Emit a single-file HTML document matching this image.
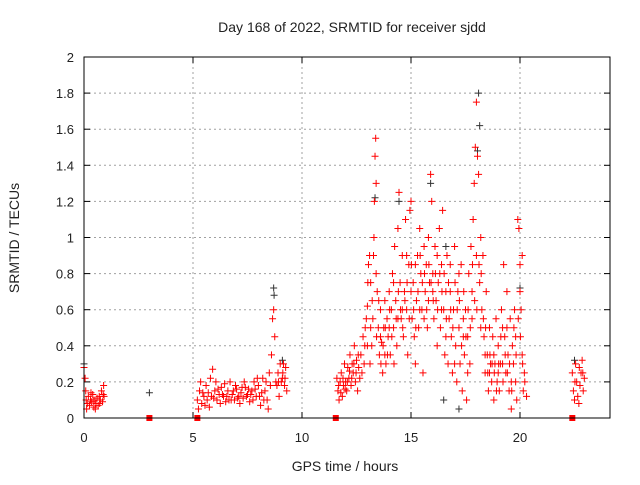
<!DOCTYPE html>
<html><head><meta charset="utf-8"><style>
body{margin:0;background:#fff;}
svg text{font-family:"Liberation Sans",sans-serif;font-size:13px;fill:#222;}
</style></head><body>
<svg id="chart" width="640" height="480" xmlns="http://www.w3.org/2000/svg">
<rect width="640" height="480" fill="#fff"/>
<text x="352" y="32" text-anchor="middle" style="font-size:14px">Day 168 of 2022, SRMTID for receiver sjdd</text>
<text transform="translate(19,238) rotate(-90)" text-anchor="middle" style="font-size:14px">SRMTID / TECUs</text>
<text x="345" y="471" text-anchor="middle" style="font-size:14px">GPS time / hours</text>
<g id="grid"></g><g id="ticks"></g><g id="marks"></g>
<rect x="84" y="57" width="526" height="361" fill="none" stroke="#000" stroke-width="1"/>
</svg>
<script>
const xTicks=[0,5,10,15,20];
const yTicks=[0,0.2,0.4,0.6,0.8,1,1.2,1.4,1.6,1.8,2];
const yTickLabels=["0","0.2","0.4","0.6","0.8","1","1.2","1.4","1.6","1.8","2"];
const redData=[[0.0,0.28],[0.05,0.22],[0.08,0.15],[0.1,0.1],[0.15,0.08],[0.2,0.12],[0.25,0.07],[0.3,0.1],[0.35,0.09],[0.4,0.13],[0.45,0.06],[0.5,0.1],[0.55,0.08],[0.6,0.11],[0.65,0.07],[0.7,0.12],[0.75,0.1],[0.8,0.15],[0.85,0.09],[0.9,0.18],[0.92,0.12],
[0.12,0.05],[0.32,0.14],[0.52,0.05],[0.72,0.08],[0.88,0.13],[0.42,0.1],
[5.2,0.1],[5.3,0.15],[5.35,0.2],[5.4,0.08],[5.5,0.12],[5.6,0.18],[5.65,0.1],[5.7,0.14],[5.8,0.22],[5.85,0.12],[5.9,0.27],[6.0,0.15],[6.1,0.1],[6.2,0.13],[6.3,0.17],[6.4,0.12],[6.5,0.09],[6.6,0.15],[6.7,0.2],[6.8,0.13],[6.9,0.1],[7.0,0.16],[7.1,0.12],[7.2,0.14],[7.3,0.11],[7.4,0.17],[7.5,0.13],[7.6,0.09],[7.7,0.15],[7.8,0.2],[7.9,0.12],[8.0,0.18],[8.1,0.07],[8.2,0.22],[8.3,0.15],[8.4,0.1],[8.5,0.25],[8.55,0.18],[8.6,0.35],[8.65,0.55],[8.7,0.6],[8.75,0.45],[8.8,0.2],[8.9,0.25],[9.0,0.3],[9.1,0.22],[9.2,0.18],[9.25,0.28],[9.3,0.15],
[5.25,0.05],[5.55,0.07],[5.75,0.06],[6.05,0.2],[6.25,0.08],[6.45,0.19],[6.75,0.1],[6.95,0.18],[7.15,0.08],[7.35,0.2],[7.55,0.16],[7.75,0.1],[7.95,0.22],[8.15,0.14],[8.35,0.2],[8.45,0.05],[8.95,0.12],[9.05,0.2],[9.15,0.3],
[5.45,0.14],[5.95,0.11],[6.15,0.16],[6.35,0.13],[6.55,0.12],[6.65,0.1],[6.85,0.15],[7.05,0.11],[7.25,0.17],[7.45,0.12],[7.65,0.13],[7.85,0.16],[8.05,0.12],[8.25,0.1],[8.85,0.18],[9.12,0.25],[9.22,0.22],[8.92,0.2],
[11.6,0.22],[11.65,0.15],[11.7,0.1],[11.75,0.2],[11.8,0.25],[11.85,0.12],[11.9,0.18],[11.95,0.3],[12.0,0.2],[12.05,0.15],[12.1,0.28],[12.15,0.22],[12.2,0.35],[12.25,0.18],[12.3,0.3],[12.35,0.25],[12.4,0.4],[12.45,0.2],[12.5,0.32],[12.55,0.15],[12.6,0.28],
[11.68,0.18],[11.78,0.14],[11.88,0.22],[11.98,0.16],[12.08,0.2],[12.18,0.26],[12.28,0.22],[12.38,0.3],[12.48,0.25],[12.58,0.35],[12.65,0.22],
[12.7,0.35],[12.8,0.45],[12.85,0.3],[12.9,0.5],[12.95,0.55],[13.0,0.62],[13.05,0.85],[13.1,0.9],[13.15,0.75],[13.2,0.4],[13.25,0.55],[13.3,1.0],[13.32,1.2],[13.35,1.45],[13.38,1.55],[13.4,1.3],[13.45,0.7],[13.5,0.5],[13.55,0.35],[13.6,0.6],[13.65,0.42],[13.7,0.25],[13.75,0.5],[13.8,0.65],[13.85,0.3],[13.9,0.55],[13.95,0.45],[14.0,0.7],[14.05,0.35],[14.1,0.6],[14.15,0.8],[14.2,0.5],[14.25,0.95],[14.3,0.65],[14.35,0.4],[14.4,1.05],[14.45,1.25],[14.5,0.75],[14.55,0.55],[14.6,0.9],[14.65,0.45],[14.7,0.7],[14.75,1.1],[14.8,0.6],[14.85,0.35],[14.9,0.85],[14.95,1.15],[15.0,1.2],[15.05,0.55],[15.1,0.75],[15.15,0.45],[15.2,0.3],[15.25,0.65],[15.3,0.9],[15.35,0.5],[15.4,1.05],[15.45,0.8],[15.5,0.6],[15.55,0.25],[15.6,0.95],[15.65,0.7],[15.7,0.85],[15.75,0.5],[15.8,1.0],[15.85,0.75],[15.9,1.35],[15.95,1.2],[16.0,0.8],[16.05,0.55],[16.1,0.95],[16.15,0.65],[16.2,0.4],[16.25,0.75],[16.3,1.05],[16.35,0.5],[16.4,0.85],[16.45,1.15],[16.5,0.6],[16.55,0.35],[16.6,0.7],[16.65,0.9],[16.7,0.3],[16.75,0.55],[16.8,0.85],[16.85,0.45],[16.9,0.25],[16.95,0.6],[17.0,0.95],[17.05,0.4],[17.1,0.2],[17.15,0.7],[17.2,0.5],[17.25,0.3],[17.3,0.85],[17.35,0.15],[17.4,0.55],[17.45,0.35],[17.5,0.6],[17.55,0.1],[17.6,0.45],[17.65,0.8],[17.7,0.3],[17.75,0.95],[17.8,0.55],[17.85,1.1],[17.9,1.3],[17.95,1.5],[18.0,1.75],[18.05,1.45],[18.1,1.35],[18.15,0.75],[18.2,1.0],[18.25,0.6],[18.3,0.9],[18.35,0.45],[18.4,0.25],[18.45,0.7],[18.5,0.35],[18.55,0.15],[18.6,0.5],[18.65,0.3],[18.7,0.2],[18.75,0.45],[18.8,0.1],[18.85,0.3],[18.9,0.55],[18.95,0.2],[19.0,0.4],[19.05,0.15],[19.1,0.3],[19.15,0.6],[19.2,0.5],[19.25,0.85],[19.3,0.45],[19.35,0.25],[19.4,0.7],[19.45,0.35],[19.5,0.15],[19.55,0.55],[19.6,0.05],[19.65,0.4],[19.7,0.3],[19.75,0.6],[19.8,0.2],[19.85,0.1],[19.9,1.1],[19.95,1.05],[20.0,0.85],[20.05,0.6],[20.1,0.35],[20.15,0.15],[20.2,0.25],
[13.0,0.4],[13.15,0.5],[13.4,0.8],[13.6,0.45],[13.8,0.35],[14.0,0.5],[14.2,0.75],[14.4,0.55],[14.6,0.6],[14.8,0.9],[15.0,0.7],[15.2,0.85],[15.4,0.6],[15.6,0.55],[15.8,0.65],[16.0,0.7],[16.2,0.9],[16.4,0.6],[16.6,0.45],[16.8,0.7],[17.0,0.3],[17.2,0.8],[17.4,0.45],[17.6,0.25],[17.8,0.7],[18.0,0.9],[18.2,0.5],[18.4,0.35],[18.6,0.25],[18.8,0.35],[19.0,0.25],[19.2,0.3],[19.4,0.5],[19.6,0.2],[19.8,0.45],[20.0,0.7],[20.1,0.9],
[12.75,0.25],[12.88,0.4],[13.02,0.75],[13.12,0.3],[13.22,0.65],[13.28,0.9],[13.42,0.45],[13.52,0.65],[13.62,0.3],[13.72,0.4],[13.82,0.5],[13.92,0.35],[14.02,0.6],[14.12,0.45],[14.22,0.3],[14.32,0.55],[14.42,0.7],[14.52,0.6],[14.62,0.5],[14.72,0.65],[14.82,0.75],[14.92,0.55],[15.02,0.85],[15.12,0.6],[15.22,0.5],[15.32,0.7],[15.42,0.9],[15.52,0.75],[15.62,0.8],[15.72,0.6],[15.82,0.85],[15.92,0.75],[16.02,0.65],[16.12,0.8],[16.22,0.6],[16.32,0.8],[16.42,0.7],[16.52,0.8],[16.62,0.55],[16.72,0.75],[16.82,0.6],[16.92,0.5],[17.02,0.75],[17.12,0.6],[17.22,0.65],[17.32,0.4],[17.42,0.7],[17.52,0.45],[17.62,0.6],[17.72,0.5],[17.82,0.85],[17.92,0.65],[18.02,0.6],[18.12,0.85],[18.22,0.8],[18.32,0.55],[18.42,0.5],[18.52,0.25],[18.62,0.35],[18.72,0.3],[18.82,0.25],[18.92,0.15],[19.02,0.3],[19.12,0.45],[19.22,0.2],[19.32,0.35],[19.42,0.25],[19.52,0.3],[19.62,0.15],[19.72,0.5],[19.82,0.35],[19.92,0.55],[20.02,0.45],[20.12,0.3],[20.22,0.2],[20.3,0.12],
[22.4,0.25],[22.45,0.15],[22.5,0.1],[22.55,0.3],[22.6,0.2],[22.65,0.12],[22.7,0.08],[22.75,0.18],[22.8,0.25],[22.85,0.32],[22.9,0.15],[22.95,0.22],[22.52,0.2],[22.72,0.28],[22.88,0.25]];
const blackData=[[0.0,0.3],[3.0,0.14],[8.7,0.72],[8.72,0.68],[9.1,0.32],[13.35,1.22],[14.45,1.2],[15.9,1.3],[16.6,0.95],[17.2,0.05],[18.1,1.8],[18.15,1.62],[18.05,1.48],[20.0,0.72],[16.5,0.1],[22.5,0.32]];
const gapT=[3.0,5.2,11.55,22.4];
const X=t=>84+t*(523.2/24), Y=v=>418-v*180.5;
const NS="http://www.w3.org/2000/svg";
function mk(tag,attrs,parent){const e=document.createElementNS(NS,tag);for(const k in attrs)e.setAttribute(k,attrs[k]);document.getElementById(parent).appendChild(e);return e;}
yTicks.forEach((v,i)=>{
 if(v>0&&v<2){const g=mk('line',{x1:84,x2:610,y1:Y(v),y2:Y(v),stroke:'#a0a0a0','stroke-dasharray':'2,3'},'grid');
 
 }
 mk('line',{x1:84,x2:90,y1:Y(v),y2:Y(v),stroke:'#000'},'ticks');
 mk('line',{x1:604,x2:610,y1:Y(v),y2:Y(v),stroke:'#000'},'ticks');
 const t=mk('text',{x:74,y:Y(v)+5,'text-anchor':'end'},'ticks');t.textContent=yTickLabels[i];
 
 
});
xTicks.forEach(v=>{
 if(v>0){const g=mk('line',{x1:X(v),x2:X(v),y1:57,y2:418,stroke:'#a0a0a0','stroke-dasharray':'2,3'},'grid');
 
 }
 mk('line',{x1:X(v),x2:X(v),y1:418,y2:412,stroke:'#000'},'ticks');
 mk('line',{x1:X(v),x2:X(v),y1:57,y2:63,stroke:'#000'},'ticks');
 const t=mk('text',{x:X(v),y:442,'text-anchor':'middle'},'ticks');t.textContent=String(v);
 
 
});
function plus(t,v,col,name){const x=X(t),y=Y(v);
 const p=mk('path',{d:`M${x-3.5},${y}H${x+3.5}M${x},${y-3.5}V${y+3.5}`,stroke:col,'stroke-width':1,fill:'none'},'marks');
 
 }
blackData.forEach(d=>plus(d[0],d[1],'#333','black-point'));
redData.forEach(d=>plus(d[0],d[1],'#f00','red-point'));
gapT.forEach(t=>{const r=mk('rect',{x:X(t)-3,y:415,width:6,height:6,fill:'#f00'},'marks');
 
 });
</script>
</body></html>
